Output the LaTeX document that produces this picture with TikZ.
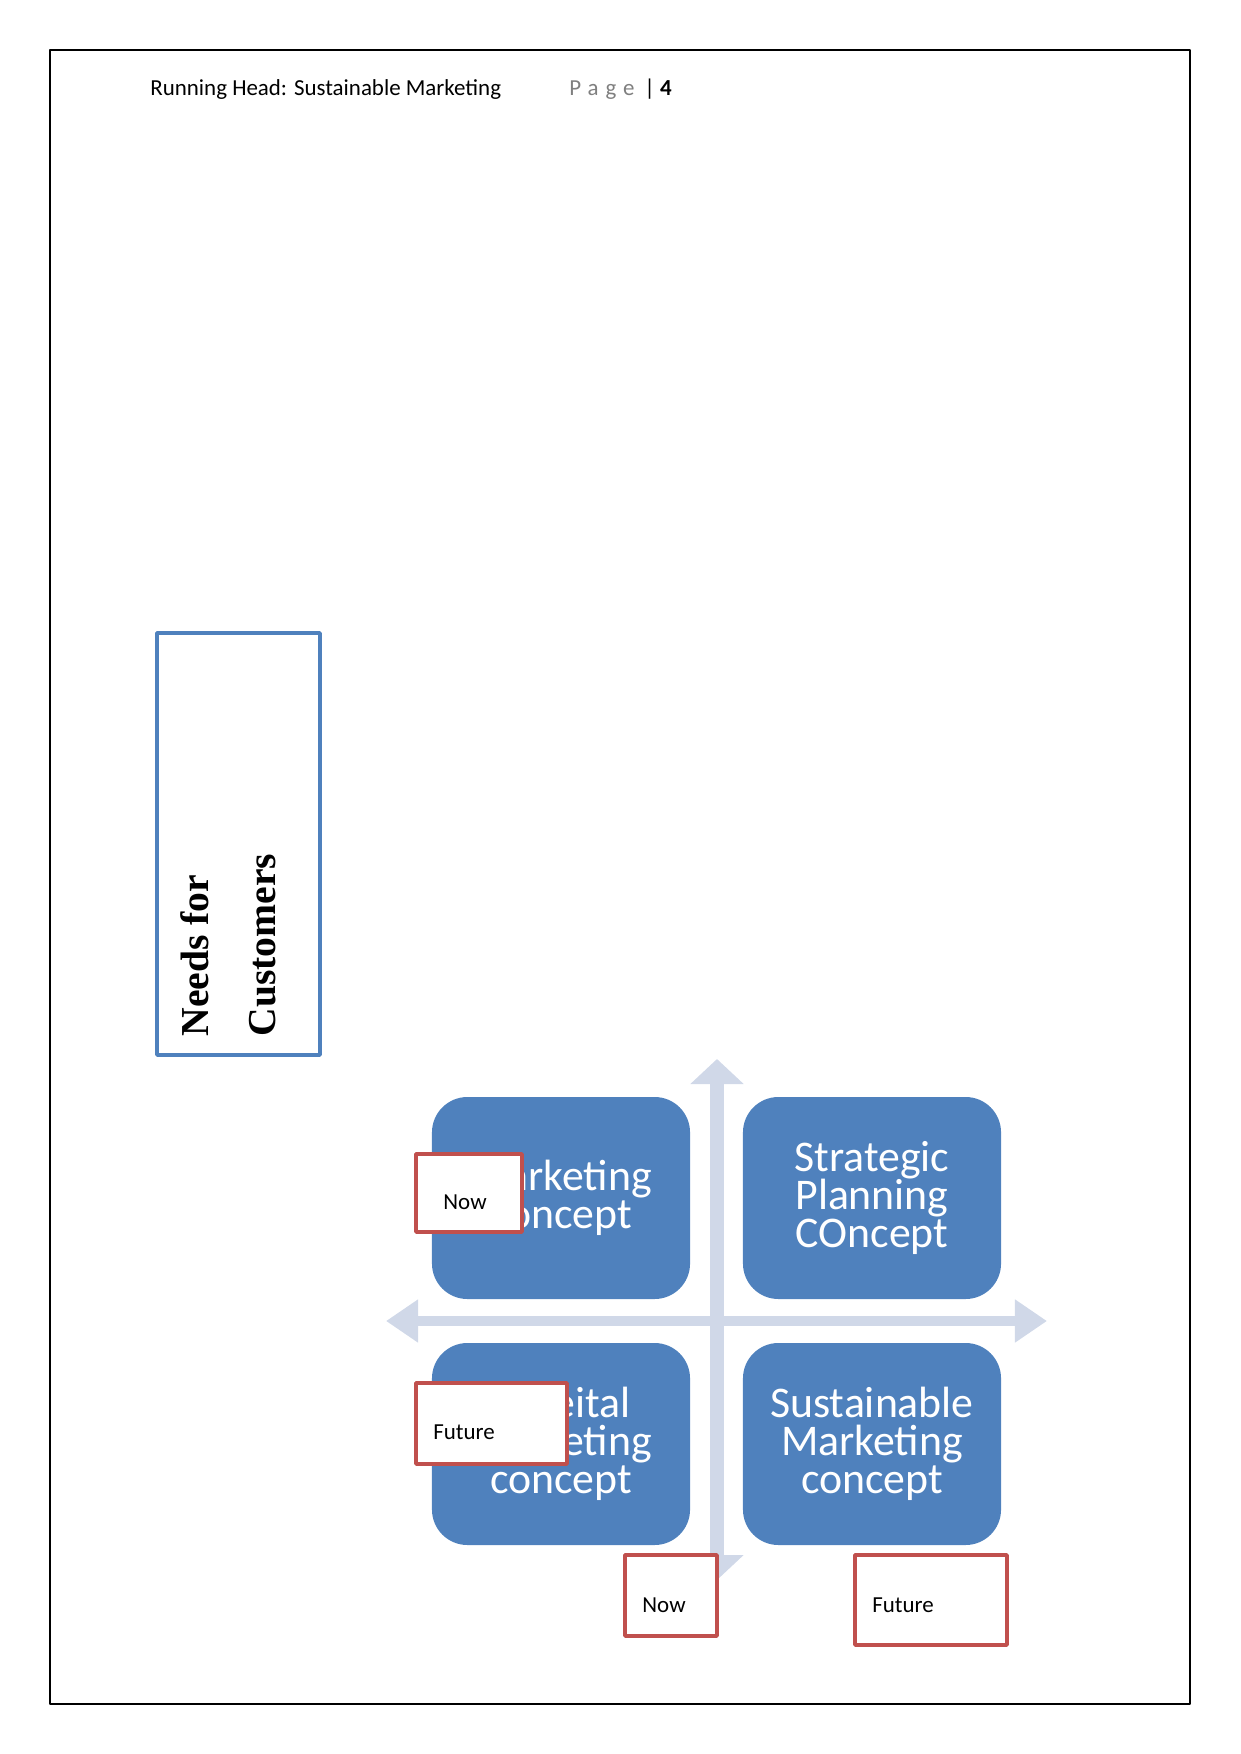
\documentclass[tikz,border=0pt]{standalone}
\usepackage{fontspec}
\setmainfont{Carlito}
\newfontfamily\cambria{Liberation Serif}
\usetikzlibrary{arrows.meta}
\definecolor{smartblue}{RGB}{79,129,189}
\definecolor{axisblue}{RGB}{208,216,232}
\definecolor{tagred}{RGB}{192,80,77}
\definecolor{pagegray}{RGB}{127,127,127}
\def\pxu{0.4797}
\tikzset{
	quad/.style={fill=smartblue,rounded corners=17pt,text=white,align=center,inner sep=0pt,
		minimum width=123.8pt,minimum height=96.9pt,font=\fontsize{21}{18.2}\selectfont},
	tag/.style={draw=tagred,line width=1.8pt,fill=white},
	tagtext/.style={anchor=base west,inner sep=0pt,font=\fontsize{11}{13}\selectfont},
	needstext/.style={rotate=90,anchor=base west,inner sep=0pt,font=\cambria\bfseries\fontsize{19}{22}\selectfont},
	vaxis/.style={axisblue,line width=6.72pt,-{Triangle[width=24.9pt,length=12pt]}},
	haxis/.style={axisblue,line width=4.8pt,-{Triangle[width=19.7pt,length=15.4pt]}}
}
\begin{document}
\begin{tikzpicture}[x=\pxu pt,y=-\pxu pt,line join=round]
	\useasboundingbox (0,0) rectangle (1241,1754);
	\draw[line width=0.75pt] (50,50) rectangle (1190,1704);
	% header
	\node[tagtext] (head) at (150,96) {Running Head: Sustainable Marketing};
	\node[tagtext,text=pagegray] (page) at (569,96) {\addfontfeature{LetterSpace=30}Page};
	\node[tagtext] (pnum) at (644,96) {| \textbf{4}};
	% rotated box
	\draw[smartblue,line width=1.8pt] (157,633) rectangle (320,1055);
	\node[needstext] (needs) at (208,1037) {Needs for};
	\node[needstext] (customers) at (275,1037) {Customers};
	% axes
	\coordinate (o) at (717,1321);
	\coordinate (up) at (717,1059);
	\coordinate (down) at (717,1580);
	\coordinate (left) at (386,1321);
	\coordinate (right) at (1047,1321);
	\draw[vaxis] (o)--(up);
	\draw[vaxis] (o)--(down);
	\draw[haxis] (o)--(left);
	\draw[haxis] (o)--(right);
	% quadrants
	\node[quad] (mkt) at (561,1198) {Marketing\\concept};
	\node[quad] (strat) at (872,1198) {Strategic\\Planning\\COncept};
	\node[quad] (soc) at (561,1444) {Soceital\\Marketing\\concept};
	\node[quad] (sust) at (872,1444) {Sustainable\\Marketing\\concept};
	% tags
	\draw[tag] (416,1154) rectangle (522,1232);
	\node[tagtext] (nowA) at (443,1209) {Now};
	\draw[tag] (416,1383) rectangle (567,1464);
	\node[tagtext] (futA) at (433,1439) {Future};
	\draw[tag] (625,1555) rectangle (717,1636);
	\node[tagtext] (nowB) at (642,1612) {Now};
	\draw[tag] (855,1555) rectangle (1007,1645);
	\node[tagtext] (futB) at (872,1612) {Future};
\end{tikzpicture}
\end{document}
